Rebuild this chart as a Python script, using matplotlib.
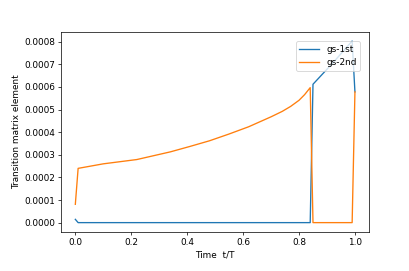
import matplotlib
matplotlib.use('Agg')
import matplotlib.pyplot as plt

# values
t1 = [0.0, 0.01, 0.84, 0.85, 0.92, 0.99, 1.0]
gs1 = [0.0000145, 0.0, 0.0, 0.000612, 0.000705, 0.000803, 0.000578]

t2 = [0.0, 0.01, 0.1, 0.22, 0.34, 0.41, 0.48, 0.55, 0.62, 0.7, 0.74, 0.77,
      0.8, 0.82, 0.84, 0.85, 0.99, 1.0]
gs2 = [0.000081, 0.00024, 0.00026, 0.000279, 0.000313, 0.000337, 0.000362,
       0.000392, 0.000424, 0.000468, 0.000492, 0.000514, 0.000541,
       0.000566, 0.000597, 0.0, 0.0, 0.000578]

fig = plt.figure(figsize=(409/64, 271/64), dpi=64)
plt.subplots_adjust(left=0.15, right=0.902, bottom=0.145, top=0.882)
plt.plot(t1, gs1, label='gs-1st')
plt.plot(t2, gs2, label='gs-2nd')
plt.legend(loc='upper right', bbox_to_anchor=(0.971, 0.953),
           borderaxespad=0, handlelength=2.2)
plt.xlabel('Time  t/T')
plt.ylabel('Transition matrix element')
plt.savefig('out.png', dpi=64)
